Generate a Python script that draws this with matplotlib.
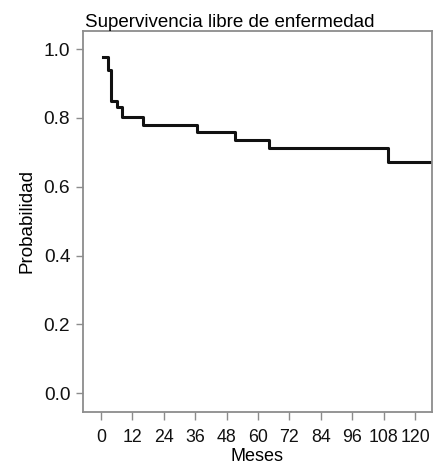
import matplotlib
matplotlib.use("Agg")
import matplotlib.pyplot as plt

plt.rcParams['font.family'] = ['Liberation Sans', 'DejaVu Sans']

# Kaplan-Meier estimate (months, probability)
months = [0.8, 2.8, 3.7, 6.0, 7.9, 16.2, 36.8, 51.2, 64.3, 109.8, 126.0]
survival = [0.978, 0.94, 0.848, 0.833, 0.804, 0.78, 0.759, 0.736, 0.714, 0.673, 0.673]

x_ticks = [0, 12, 24, 36, 48, 60, 72, 84, 96, 108, 120]
y_ticks = [0.0, 0.2, 0.4, 0.6, 0.8, 1.0]
y_tick_labels = ['0.0', '0.2', '0.4', '0.6', '0.8', '1.0']

fig = plt.figure(figsize=(4.36, 4.67), dpi=100)
ax = fig.add_axes([0.190, 0.118, 0.801, 0.816])

ax.plot(months, survival, drawstyle='steps-post', color='#111111', linewidth=2.2)

ax.set_xlim(-6.9, 126.5)
ax.set_ylim(-0.054, 1.053)
ax.set_xticks(x_ticks)
ax.set_xticklabels([str(t) for t in x_ticks], fontsize=12.8)
ax.set_yticks(y_ticks)
ax.set_yticklabels(y_tick_labels, fontsize=13.8)

for spine in ax.spines.values():
    spine.set_color('#8c8c8c')
    spine.set_linewidth(1.3)

ax.tick_params(axis='y', colors='#8c8c8c', labelcolor='#111111', length=5, width=1, pad=4)
ax.tick_params(axis='x', colors='#8c8c8c', labelcolor='#111111', length=6, width=1, pad=6)

ax.set_title('Supervivencia libre de enfermedad', loc='left', fontsize=13.5, pad=3, x=0.005)
ax.set_xlabel('Meses', fontsize=13, labelpad=2)
ax.set_ylabel('Probabilidad', fontsize=13.5, labelpad=6)

fig.savefig('out.png', dpi=100)
